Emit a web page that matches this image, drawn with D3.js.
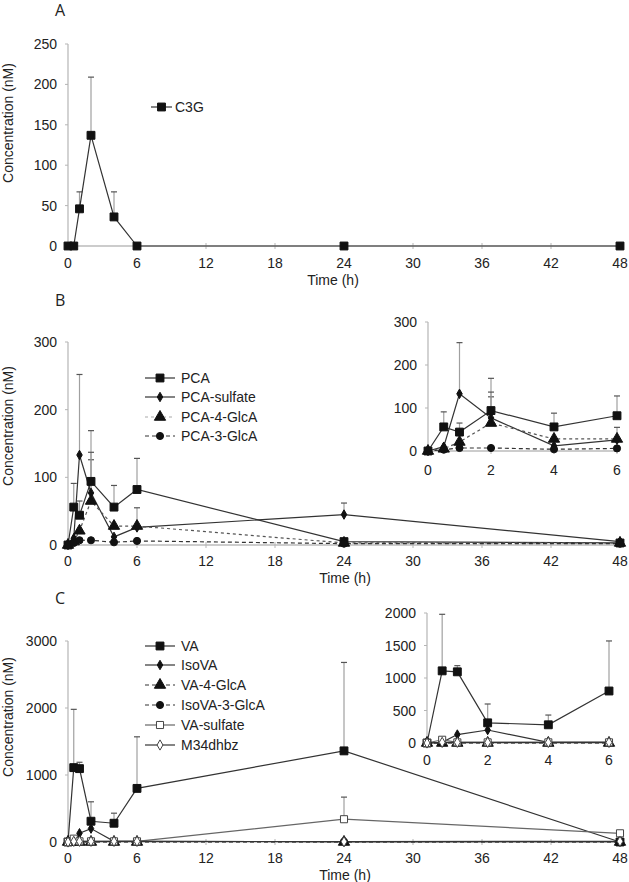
<!DOCTYPE html>
<html><head><meta charset="utf-8">
<script src="https://cdn.jsdelivr.net/npm/d3@7"></script>
<style>
body{margin:0;background:#fff;}
svg text{font-family:"Liberation Sans",Arial,sans-serif;fill:#222;}
</style></head>
<body><svg id="chart" width="629" height="882"></svg>
<script>
// ---------- DATA ----------
const times = [0, 0.5, 1, 2, 4, 6, 24, 48];
const mainTicks = [0, 6, 12, 18, 24, 30, 36, 42, 48];
const insetTicks = [0, 2, 4, 6];

// Panel A
const c3g    = [0, 0, 46, 137, 36, 0, 0, 0];
const c3gErr = [0, 0, 21, 72, 31, 0, 0, 0];
const ticksA = [0, 50, 100, 150, 200, 250];

// Panel B
const pca          = [0, 56, 44, 94, 56, 82, 5, 3];
const pcaErr       = [0, 35, 21, 75, 32, 46, 0, 0];
const pcaSulfate   = [0, 10, 133, 77, 12, 26, 45, 5];
const pcaSulfErr   = [0, 0, 119, 49, 0, 0, 17, 0];
const pca4GlcA     = [0, 5, 21, 65, 28, 28, 3, 3];
const pca4GlcAErr  = [0, 0, 0, 72, 0, 27, 0, 0];
const pca3GlcA     = [0, 3, 7, 7, 4, 6, 2, 2];
const pca3GlcAErr  = [0, 0, 0, 0, 0, 0, 0, 0];
const ticksB = [0, 100, 200, 300];

// Panel C
const va          = [0, 1110, 1095, 310, 280, 800, 1360, 0];
const vaErr       = [0, 870, 95, 290, 150, 770, 1320, 0];
const isova       = [0, 10, 130, 200, 10, 10, 5, 5];
const isovaErr    = [0, 0, 0, 0, 0, 0, 0, 0];
const va4GlcA     = [0, 0, 0, 0, 0, 0, 0, 0];
const isova3GlcA  = [0, 5, 5, 5, 5, 5, 5, 5];
const vaSulfate   = [0, 50, 10, 10, 10, 10, 340, 130];
const vaSulfErr   = [0, 0, 0, 0, 0, 0, 330, 30];
const m34dhbz     = [0, 10, 10, 10, 10, 10, 5, 10];
const ticksCmain  = [0, 1000, 2000, 3000];
const ticksCinset = [0, 500, 1000, 1500, 2000];

// ---------- DRAWING ----------
const svg = d3.select("#chart");
const zeros = times.map(() => 0);

const styleSq   = {shape: d3.symbolSquare,   size: 62, fill: "#111", stroke: "#111", line: "#333", legLine: "#333", dash: null};
const styleDia  = {shape: d3.symbolDiamond,  size: 26, fill: "#111", stroke: "#111", line: "#333", legLine: "#333", dash: null};
const styleTriG = {shape: d3.symbolTriangle, size: 55, fill: "#111", stroke: "#111", line: "#555", legLine: "#aaa", dash: "3,3"};
const styleTri  = {shape: d3.symbolTriangle, size: 55, fill: "#111", stroke: "#111", line: "#333", legLine: "#333", dash: "4,3"};
const styleCir  = {shape: d3.symbolCircle,   size: 40, fill: "#111", stroke: "#111", line: "#333", legLine: "#333", dash: "4,3"};
const styleOSq  = {shape: d3.symbolSquare,   size: 50, fill: "#fff", stroke: "#444", line: "#666", legLine: "#666", dash: null};
const styleODia = {shape: d3.symbolDiamond,  size: 30, fill: "#fff", stroke: "#444", line: "#333", legLine: "#333", dash: null};

const seriesA = [{name: "C3G", v: c3g, e: c3gErr, st: styleSq}];
const seriesB = [
  {name: "PCA", v: pca, e: pcaErr, st: styleSq},
  {name: "PCA-sulfate", v: pcaSulfate, e: pcaSulfErr, st: styleDia},
  {name: "PCA-4-GlcA", v: pca4GlcA, e: pca4GlcAErr, st: styleTriG},
  {name: "PCA-3-GlcA", v: pca3GlcA, e: pca3GlcAErr, st: styleCir}
];
const seriesC = [
  {name: "VA", v: va, e: vaErr, st: styleSq},
  {name: "IsoVA", v: isova, e: isovaErr, st: styleDia},
  {name: "VA-4-GlcA", v: va4GlcA, e: zeros, st: styleTri},
  {name: "IsoVA-3-GlcA", v: isova3GlcA, e: zeros, st: styleCir},
  {name: "VA-sulfate", v: vaSulfate, e: vaSulfErr, st: styleOSq},
  {name: "M34dhbz", v: m34dhbz, e: zeros, st: styleODia}
];

function drawPlot(o) {
  const x = d3.scaleLinear().domain(o.xDomain).range([o.x0, o.x1]);
  const y = d3.scaleLinear().domain(o.yDomain).range([o.y0, o.y1]);
  const g = svg.append("g");
  g.append("line").attr("x1", o.x0).attr("x2", o.x0).attr("y1", y(o.yDomain[0])).attr("y2", y(o.yDomain[1]))
    .attr("stroke", "#b5b5b5").attr("stroke-width", 1.2);
  g.append("line").attr("x1", o.x0).attr("x2", o.x1).attr("y1", y(0)).attr("y2", y(0))
    .attr("stroke", "#9a9a9a").attr("stroke-width", 1.2);
  o.yTicks.forEach(t => {
    g.append("line").attr("x1", o.x0 - 3).attr("x2", o.x0).attr("y1", y(t)).attr("y2", y(t)).attr("stroke", "#b5b5b5");
    g.append("text").attr("x", o.x0 - 11).attr("y", y(t) + 5).attr("text-anchor", "end")
      .attr("font-size", 14).text(t);
  });
  o.xTicks.forEach(t => {
    g.append("line").attr("x1", x(t)).attr("x2", x(t)).attr("y1", y(0) - 3).attr("y2", y(0) + 3).attr("stroke", "#b5b5b5");
    g.append("text").attr("x", x(t)).attr("y", o.xLabelY).attr("text-anchor", "middle")
      .attr("font-size", 14).text(t);
  });
  const maxT = o.xDomain[1];
  const idx = times.map((t, i) => i).filter(i => times[i] <= maxT);
  o.series.forEach(s => {
    idx.forEach(i => {
      if (s.e[i] > 0) {
        g.append("line").attr("x1", x(times[i])).attr("x2", x(times[i]))
          .attr("y1", y(s.v[i])).attr("y2", y(s.v[i] + s.e[i])).attr("stroke", "#a0a0a0").attr("stroke-width", 1.2);
        g.append("line").attr("x1", x(times[i]) - 3).attr("x2", x(times[i]) + 3)
          .attr("y1", y(s.v[i] + s.e[i])).attr("y2", y(s.v[i] + s.e[i])).attr("stroke", "#555").attr("stroke-width", 1.2);
      }
    });
  });
  o.series.forEach(s => {
    const line = d3.line().x(i => x(times[i])).y(i => y(s.v[i]));
    g.append("path").attr("d", line(idx)).attr("fill", "none").attr("stroke", s.st.line)
      .attr("stroke-width", 1.2).attr("stroke-dasharray", s.st.dash);
  });
  o.series.forEach(s => {
    const sym = d3.symbol().type(s.st.shape).size(s.st.size);
    idx.forEach(i => {
      g.append("path").attr("d", sym()).attr("transform", `translate(${x(times[i])},${y(s.v[i])})`)
        .attr("fill", s.st.fill).attr("stroke", s.st.stroke).attr("stroke-width", 1);
    });
  });
  return g;
}

function drawLegend(series, lx0, lx1, tx, ys) {
  series.forEach((s, k) => {
    const yy = ys[k];
    svg.append("line").attr("x1", lx0).attr("x2", lx1).attr("y1", yy).attr("y2", yy)
      .attr("stroke", s.st.legLine).attr("stroke-width", 1.2)
      .attr("stroke-dasharray", s.st.dash);
    svg.append("path").attr("d", d3.symbol().type(s.st.shape).size(s.st.size)())
      .attr("transform", `translate(${(lx0 + lx1) / 2},${yy})`)
      .attr("fill", s.st.fill).attr("stroke", s.st.stroke);
    svg.append("text").attr("x", tx).attr("y", yy + 5).attr("font-size", 14).text(s.name);
  });
}

function yTitle(cy) {
  svg.append("text").attr("transform", `translate(13,${cy}) rotate(-90)`).attr("text-anchor", "middle")
    .attr("font-size", 14).text("Concentration (nM)");
}
function xTitle(cx, by) {
  svg.append("text").attr("x", cx).attr("y", by).attr("text-anchor", "middle").attr("font-size", 14).text("Time (h)");
}
function letter(t, by) {
  svg.append("text").attr("x", 55).attr("y", by).attr("font-size", 16)
    .style("font-family", "'Open Sans', sans-serif").text(t);
}

// Panel A
letter("A", 16);
drawPlot({series: seriesA, xDomain: [0, 48], yDomain: [0, 250], x0: 68, x1: 620, y0: 246, y1: 44,
  xTicks: mainTicks, yTicks: ticksA, xLabelY: 268});
yTitle(123); xTitle(333, 285);
drawLegend(seriesA, 151, 172, 175, [107]);

// Panel B
letter("B", 306);
drawPlot({series: seriesB, xDomain: [0, 48], yDomain: [0, 300], x0: 68, x1: 620, y0: 545, y1: 342,
  xTicks: mainTicks, yTicks: ticksB, xLabelY: 566});
yTitle(426); xTitle(345, 583);
drawLegend(seriesB, 145, 175, 181, [378, 397, 417, 436]);
drawPlot({series: seriesB, xDomain: [0, 6], yDomain: [0, 300], x0: 428, x1: 617, y0: 451, y1: 322,
  xTicks: insetTicks, yTicks: ticksB, xLabelY: 475});

// Panel C
letter("C", 604);
drawPlot({series: seriesC, xDomain: [0, 48], yDomain: [0, 3000], x0: 68, x1: 620, y0: 842, y1: 641,
  xTicks: mainTicks, yTicks: ticksCmain, xLabelY: 863});
yTitle(717); xTitle(345, 880);
drawLegend(seriesC, 145, 175, 181, [646, 665, 685, 705, 725, 745]);
drawPlot({series: seriesC, xDomain: [0, 6], yDomain: [0, 2000], x0: 427, x1: 609, y0: 743, y1: 613,
  xTicks: insetTicks, yTicks: ticksCinset, xLabelY: 765});
</script></body></html>
